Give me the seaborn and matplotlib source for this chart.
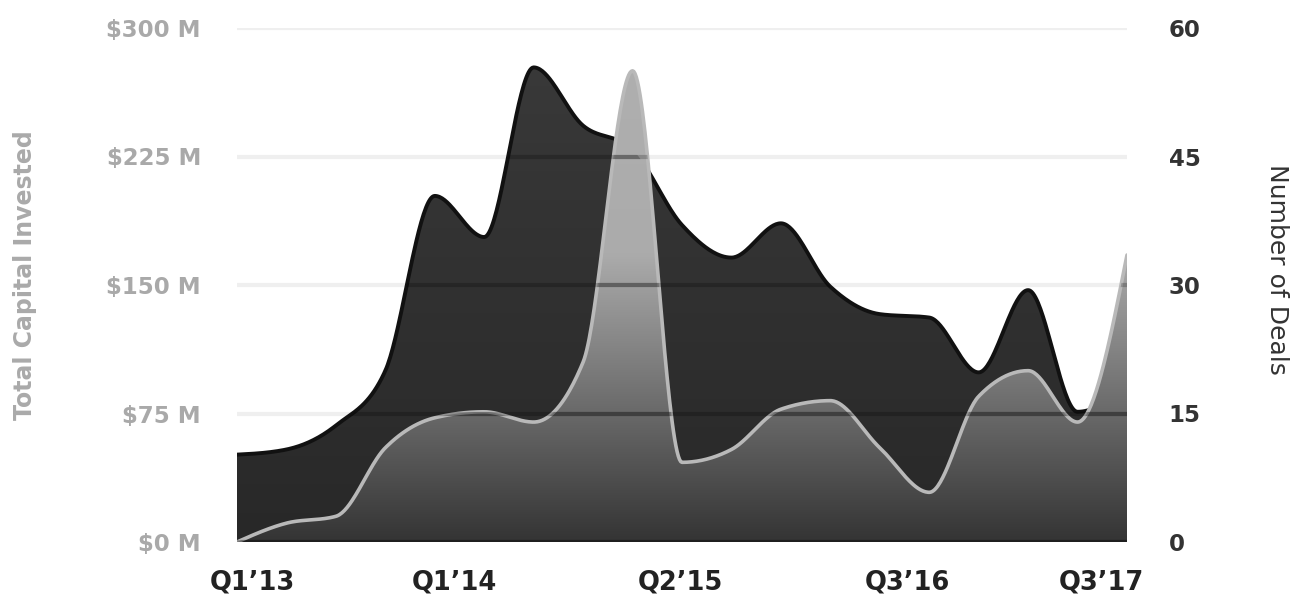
import numpy as np
import matplotlib
matplotlib.use("Agg")
import matplotlib.pyplot as plt
import matplotlib.transforms as mtransforms
import seaborn as sns
from matplotlib.colors import LinearSegmentedColormap
from matplotlib.patches import Polygon

# quarterly values, Q1'13 .. Q3'17
quarters = ["Q1’13", "Q2’13", "Q3’13", "Q4’13",
            "Q1’14", "Q2’14", "Q3’14", "Q4’14",
            "Q1’15", "Q2’15", "Q3’15", "Q4’15",
            "Q1’16", "Q2’16", "Q3’16", "Q4’16",
            "Q1’17", "Q2’17", "Q3’17"]
capital = [51, 54, 68, 100, 202, 178, 277, 243, 229, 185,
           166, 186, 149, 133, 131, 99, 147, 76, 90]
deals = [0, 2.2, 3.0, 11, 14.5, 15.2, 14.0, 21, 55, 9.3,
         10.8, 15.5, 16.5, 11, 5.8, 17, 20, 14, 33.5]

tick_labels = ["Q1’13", "Q1’14", "Q2’15", "Q3’16", "Q3’17"]
cap_ticks = [0, 75, 150, 225, 300]
deal_ticks = [0, 15, 30, 45, 60]


def monotone_curve(values, per=40):
    """monotone cubic (d3 curveMonotoneX style) through evenly spaced points"""
    y = np.asarray(values, dtype=float)
    n = len(y)
    s = np.diff(y)
    m = np.zeros(n)
    for i in range(1, n - 1):
        s0, s1 = s[i - 1], s[i]
        p = (s0 + s1) / 2
        m[i] = (np.sign(s0) + np.sign(s1)) * min(abs(s0), abs(s1), 0.5 * abs(p))
    m[0] = (3 * s[0] - m[1]) / 2
    m[-1] = (3 * s[-1] - m[-2]) / 2
    t = np.linspace(0, 1, per, endpoint=False)
    h00 = 2 * t**3 - 3 * t**2 + 1
    h10 = t**3 - 2 * t**2 + t
    h01 = -2 * t**3 + 3 * t**2
    h11 = t**3 - t**2
    xs, ys = [], []
    for i in range(n - 1):
        xs.append(i + t)
        ys.append(h00 * y[i] + h10 * m[i] + h01 * y[i + 1] + h11 * m[i + 1])
    xs.append([n - 1])
    ys.append([y[-1]])
    return np.concatenate(xs), np.concatenate(ys)


def gradient_fill(ax, xs, ys, top, cmap):
    verts = np.column_stack([np.r_[xs, xs[-1], xs[0]], np.r_[ys, 0, 0]])
    poly = Polygon(verts, closed=True, transform=ax.transData)
    grad = np.linspace(0, 1, 256).reshape(-1, 1)
    im = ax.imshow(grad, extent=[xs[0], xs[-1], 0, top], origin="lower",
                   aspect="auto", cmap=cmap, zorder=1, interpolation="bicubic")
    im.set_clip_path(poly)
    return poly


sns.set_style("white")
plt.rcParams["font.family"] = ["DejaVu Sans"]

fig = plt.figure(figsize=(12.99, 5.97), dpi=100, facecolor="white")
ax = fig.add_axes([237 / 1299, 55 / 597, 890 / 1299, 514 / 597])
ax2 = ax.twinx()

n = len(quarters)
cx, cy = monotone_curve(capital)
dx, dy = monotone_curve(deals)

dark_cmap = LinearSegmentedColormap.from_list("dark", ["#282828", "#3a3a3a"])
light_cmap = LinearSegmentedColormap.from_list(
    "light", [(0, "#343434"), (0.56, "#ababab"), (1, "#b0b0b0")])

# capital invested (left axis)
dark_poly = gradient_fill(ax, cx, cy, 300, dark_cmap)
sns.lineplot(x=cx, y=cy, ax=ax, color="#111111", lw=2.8, sort=False,
             estimator=None, zorder=3)

# number of deals (right axis)
light_poly = gradient_fill(ax2, dx, dy, 60, light_cmap)
sns.lineplot(x=dx, y=dy, ax=ax2, color="#b9b9b9", lw=2.6, sort=False,
             estimator=None, zorder=3)

ax.set_xlim(0, n - 1)
ax.set_ylim(0, 300)
ax2.set_ylim(0, 60)

# grid: light on white, darker band where it crosses the filled areas
for v in cap_ticks:
    ax.axhline(v, color="#efefef", lw=3, zorder=0)
    for poly in (dark_poly, light_poly):
        band = ax2.axhline(v / 5, color="black", alpha=0.22, lw=3, zorder=4)
        band.set_clip_path(poly)

for a in (ax, ax2):
    for sp in a.spines.values():
        sp.set_visible(False)
    a.tick_params(length=0)
    a.grid(False)

ax.set_yticks(cap_ticks)
ax.set_yticklabels([f"${v} M" for v in cap_ticks], color="#a9a9a9",
                   fontsize=16.5, fontweight="bold")
ax.tick_params(axis="y", pad=26)
ax2.set_yticks(deal_ticks)
ax2.set_yticklabels([str(v) for v in deal_ticks], color="#333333",
                    fontsize=16.5, fontweight="bold")
ax2.tick_params(axis="y", pad=30)

ax.set_xticks([quarters.index(q) for q in tick_labels])
ax.set_xticklabels(tick_labels, color="#222222", fontsize=18.5, fontweight="bold")
ax.tick_params(axis="x", pad=20)
# labels sit a little off their quarter in the original layout
for lab, shift in zip(ax.get_xticklabels(), [15, 20, -2, -22, -26]):
    lab.set_transform(lab.get_transform() + mtransforms.ScaledTranslation(
        shift / 100, 0, fig.dpi_scale_trans))

ax.set_ylabel("Total Capital Invested", color="#aaaaaa", fontsize=17,
              fontweight="bold")
ax.yaxis.set_label_coords(-0.225, 0.52)
ax2.set_ylabel("Number of Deals", color="#333333", fontsize=18,
               rotation=270, va="center")
ax2.yaxis.set_label_coords(1.168, 0.53)

fig.savefig("out.png", dpi=100, facecolor="white")
